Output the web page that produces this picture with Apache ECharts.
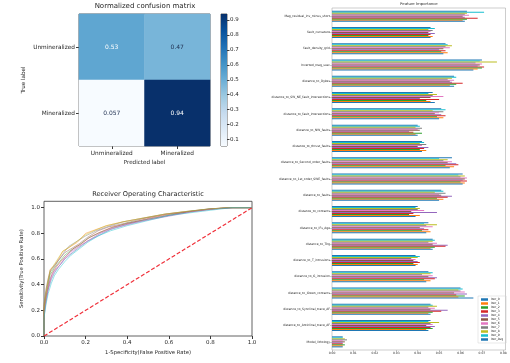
<!DOCTYPE html>
<html>
<head>
<meta charset="utf-8">
<script src="https://cdn.jsdelivr.net/npm/echarts@6/dist/echarts.min.js"></script>
<style>
  html, body { margin: 0; padding: 0; background: #fff; }
  #chart { width: 510px; height: 363px; }
</style>
</head>
<body>
<div id="chart"></div>
<script>
// confusion matrix
const cmLabels = ['Unmineralized', 'Mineralized'];
const cmValues = [
  [0, 0, 0.53], [1, 0, 0.47],
  [0, 1, 0.057], [1, 1, 0.94],
];
const cmTicks = [0.1, 0.2, 0.3, 0.4, 0.5, 0.6, 0.7, 0.8, 0.9];

// ROC curves, [fpr, tpr]
const roc0 = [[0,0],[0,0.15],[0.01,0.27],[0.02,0.36],[0.035,0.44],[0.05,0.49],[0.07,0.54],[0.1,0.6],[0.13,0.64],[0.17,0.69],[0.21,0.74],[0.26,0.78],[0.32,0.83],[0.4,0.87],[0.5,0.91],[0.6,0.94],[0.7,0.97],[0.8,0.99],[0.9,1],[1,1]];
const roc1 = [[0,0],[0,0.24],[0.01,0.36],[0.02,0.44],[0.03,0.52],[0.05,0.55],[0.07,0.6],[0.09,0.66],[0.12,0.69],[0.16,0.73],[0.2,0.8],[0.25,0.83],[0.3,0.86],[0.38,0.89],[0.48,0.92],[0.58,0.95],[0.68,0.97],[0.8,0.99],[0.88,1],[1,1]];
const roc2 = [[0,0],[0,0.2],[0.01,0.31],[0.02,0.4],[0.03,0.48],[0.05,0.53],[0.07,0.57],[0.1,0.63],[0.13,0.67],[0.17,0.71],[0.21,0.76],[0.26,0.8],[0.32,0.84],[0.4,0.88],[0.5,0.91],[0.6,0.94],[0.7,0.97],[0.8,0.99],[0.9,1],[1,1]];
const roc3 = [[0,0],[0,0.18],[0.01,0.3],[0.025,0.41],[0.04,0.49],[0.06,0.54],[0.08,0.58],[0.11,0.63],[0.14,0.68],[0.18,0.72],[0.22,0.77],[0.27,0.81],[0.33,0.85],[0.41,0.88],[0.51,0.92],[0.61,0.95],[0.71,0.97],[0.81,0.99],[0.9,1],[1,1]];
const roc4 = [[0,0],[0,0.2],[0.01,0.29],[0.02,0.38],[0.03,0.45],[0.05,0.51],[0.08,0.56],[0.1,0.61],[0.13,0.66],[0.17,0.7],[0.22,0.75],[0.27,0.8],[0.33,0.84],[0.42,0.88],[0.52,0.91],[0.62,0.94],[0.72,0.97],[0.82,0.99],[0.91,1],[1,1]];
const roc5 = [[0,0],[0,0.22],[0.01,0.34],[0.02,0.42],[0.03,0.5],[0.05,0.54],[0.07,0.59],[0.1,0.65],[0.13,0.68],[0.17,0.72],[0.21,0.77],[0.26,0.82],[0.31,0.85],[0.39,0.88],[0.49,0.92],[0.59,0.95],[0.69,0.97],[0.79,0.99],[0.89,1],[1,1]];
const roc6 = [[0,0],[0,0.16],[0.01,0.28],[0.02,0.37],[0.035,0.45],[0.05,0.5],[0.08,0.56],[0.1,0.6],[0.14,0.66],[0.18,0.71],[0.22,0.75],[0.27,0.8],[0.33,0.84],[0.41,0.87],[0.51,0.91],[0.61,0.94],[0.71,0.97],[0.81,0.99],[0.9,1],[1,1]];
const roc7 = [[0,0],[0,0.25],[0.01,0.37],[0.02,0.45],[0.03,0.51],[0.05,0.55],[0.07,0.59],[0.1,0.66],[0.12,0.7],[0.16,0.74],[0.2,0.78],[0.25,0.82],[0.3,0.85],[0.38,0.89],[0.48,0.92],[0.58,0.95],[0.68,0.97],[0.79,0.99],[0.88,1],[1,1]];
const roc8 = [[0,0],[0,0.21],[0.01,0.33],[0.02,0.43],[0.03,0.51],[0.05,0.56],[0.07,0.61],[0.09,0.66],[0.12,0.69],[0.16,0.74],[0.2,0.79],[0.24,0.82],[0.3,0.86],[0.38,0.89],[0.48,0.92],[0.58,0.95],[0.68,0.97],[0.79,0.99],[0.88,1],[1,1]];
const roc9 = [[0,0],[0,0.14],[0.01,0.25],[0.02,0.33],[0.035,0.41],[0.05,0.47],[0.07,0.52],[0.1,0.58],[0.13,0.63],[0.17,0.68],[0.21,0.73],[0.26,0.78],[0.32,0.82],[0.4,0.86],[0.5,0.9],[0.6,0.94],[0.7,0.96],[0.8,0.98],[0.9,1],[1,1]];
const diagonal = [[0, 0], [1, 1]];
const rocTicks = [0, 0.2, 0.4, 0.6, 0.8, 1.0];

// feature importance, top to bottom
const features = [
  'Mag_residual_inv_minus_short', 'fault_curvature', 'fault_density_grid', 'Inverted_mag_susc',
  'distance_to_Dykes', 'distance_to_SW_NE_fault_intersections', 'distance_to_fault_intersections',
  'distance_to_NW_faults', 'distance_to_thrust_faults', 'distance_to_Second_order_faults',
  'distance_to_1st_order_SWE_faults', 'distance_to_faults', 'distance_to_contacts',
  'distance_to_IFs_Age', 'distance_to_Tkg', 'distance_to_T_intrusions', 'distance_to_G_intrusion',
  'distance_to_Green_contacts', 'distance_to_Synclinal_trace_AF', 'distance_to_Anticlinal_trace_AF',
  'Model_lithology',
];
const iter0 = [0.062,0.046,0.052,0.066,0.057,0.048,0.050,0.040,0.042,0.055,0.061,0.050,0.039,0.044,0.047,0.039,0.044,0.066,0.046,0.045,0.005];
const iter1 = [0.061,0.047,0.054,0.068,0.055,0.046,0.052,0.039,0.044,0.057,0.062,0.052,0.041,0.046,0.046,0.040,0.046,0.059,0.045,0.044,0.005];
const iter2 = [0.063,0.045,0.051,0.070,0.058,0.044,0.049,0.042,0.041,0.053,0.060,0.049,0.036,0.042,0.048,0.038,0.043,0.062,0.047,0.047,0.006];
const iter3 = [0.068,0.046,0.053,0.071,0.061,0.050,0.053,0.038,0.043,0.059,0.063,0.054,0.038,0.045,0.053,0.041,0.048,0.058,0.051,0.046,0.005];
const iter4 = [0.062,0.048,0.050,0.068,0.056,0.041,0.051,0.036,0.045,0.058,0.061,0.056,0.049,0.043,0.054,0.040,0.049,0.063,0.054,0.048,0.005];
const iter5 = [0.061,0.045,0.052,0.069,0.055,0.046,0.048,0.041,0.040,0.054,0.062,0.051,0.037,0.041,0.047,0.038,0.045,0.057,0.046,0.044,0.006];
const iter6 = [0.064,0.046,0.055,0.070,0.057,0.052,0.050,0.040,0.042,0.056,0.063,0.050,0.043,0.047,0.049,0.039,0.047,0.062,0.048,0.047,0.005];
const iter7 = [0.062,0.047,0.053,0.067,0.054,0.047,0.052,0.042,0.044,0.052,0.060,0.053,0.040,0.044,0.045,0.037,0.042,0.060,0.045,0.046,0.007];
const iter8 = [0.063,0.045,0.056,0.077,0.056,0.049,0.047,0.039,0.041,0.054,0.062,0.048,0.041,0.049,0.047,0.040,0.046,0.059,0.049,0.050,0.006];
const iter9 = [0.071,0.048,0.054,0.069,0.058,0.045,0.053,0.041,0.043,0.050,0.059,0.052,0.039,0.043,0.048,0.041,0.047,0.061,0.047,0.045,0.005];
const iterAvg = [0.063,0.046,0.053,0.070,0.057,0.047,0.051,0.040,0.042,0.056,0.061,0.051,0.040,0.045,0.047,0.039,0.045,0.060,0.046,0.046,0.005];
const fiTicks = [0, 0.01, 0.02, 0.03, 0.04, 0.05, 0.06, 0.07, 0.08];

// matplotlib tab10 + Blues
const tab10 = ['#1f77b4', '#ff7f0e', '#2ca02c', '#d62728', '#9467bd', '#8c564b', '#e377c2', '#7f7f7f', '#bcbd22', '#17becf'];
const blues = ['#f7fbff', '#deebf7', '#c6dbef', '#9ecae1', '#6baed6', '#4292c6', '#2171b5', '#08519c', '#08306b'];
const txt = '#262626';
const font = 'DejaVu Sans';

const rocCurves = [roc0, roc1, roc2, roc3, roc4, roc5, roc6, roc7, roc8, roc9];
const iters = [
  ['Iter_0', iter0], ['Iter_1', iter1], ['Iter_2', iter2], ['Iter_3', iter3], ['Iter_4', iter4],
  ['Iter_5', iter5], ['Iter_6', iter6], ['Iter_7', iter7], ['Iter_8', iter8], ['Iter_9', iter9],
  ['Iter_Avg', iterAvg],
];

const chart = echarts.init(document.getElementById('chart'), null, { renderer: 'canvas' });

const frame = { show: true, borderColor: '#3a3a3a', borderWidth: 0.8, backgroundColor: 'transparent' };
const tickLabel = (size) => ({ color: txt, fontSize: size, fontFamily: font });

// bar series drawn avg first so Iter_0 sits at the bottom of each group
const barSeries = iters.slice().reverse().map(([name, vals]) => {
  const idx = iters.findIndex((d) => d[0] === name);
  return {
    name,
    type: 'bar',
    xAxisIndex: 3,
    yAxisIndex: 3,
    data: vals,
    barGap: '0%',
    barCategoryGap: '45%',
    itemStyle: { color: idx === 10 ? tab10[0] : tab10[idx] },
    animation: false,
  };
});

const option = {
  backgroundColor: '#fff',
  animation: false,
  textStyle: { fontFamily: font },
  title: [
    { text: 'Normalized confusion matrix', left: 145, top: 3, textAlign: 'center', padding: 0,
      textStyle: { fontSize: 7, fontWeight: 'normal', color: txt, fontFamily: font } },
    { text: 'Receiver Operating Characteristic', left: 148, top: 191, textAlign: 'center', padding: 0,
      textStyle: { fontSize: 6.6, fontWeight: 'normal', color: txt, fontFamily: font } },
    { text: 'Feature Importance', left: 419, top: 2, textAlign: 'center', padding: 0,
      textStyle: { fontSize: 3.8, fontWeight: 'normal', color: txt, fontFamily: font } },
  ],
  legend: {
    data: iters.map((d) => d[0]),
    orient: 'vertical',
    left: 478,
    top: 296,
    itemWidth: 7,
    itemHeight: 2.5,
    itemGap: 1,
    padding: [2, 3, 2, 3],
    icon: 'rect',
    borderColor: '#d0d0d0',
    borderWidth: 0.5,
    textStyle: { fontSize: 3, color: txt, fontFamily: font, padding: [0, 0, 0, -2] },
  },
  visualMap: {
    type: 'continuous',
    show: false,
    seriesIndex: 0,
    min: 0.057,
    max: 0.94,
    inRange: { color: blues },
  },
  grid: [
    { left: 79, top: 14, width: 131, height: 132, ...frame },
    { left: 221, top: 14, width: 6, height: 132, ...frame },
    { left: 44, top: 201.3, width: 208, height: 134.7, ...frame },
    { left: 332, top: 8, width: 173.5, height: 342, ...frame, borderColor: '#9a9a9a', borderWidth: 0.5 },
  ],
  xAxis: [
    {
      type: 'category', gridIndex: 0, data: cmLabels,
      axisLine: { show: false },
      axisTick: { show: true, alignWithLabel: true, length: 3, lineStyle: { color: '#3a3a3a' } },
      axisLabel: { ...tickLabel(5.8), margin: 4 },
      name: 'Predicted label', nameLocation: 'middle', nameGap: 14,
      nameTextStyle: { ...tickLabel(5.6) },
    },
    { type: 'category', gridIndex: 1, data: [''], show: false },
    {
      type: 'value', gridIndex: 2, min: 0, max: 1, interval: 0.2,
      axisLine: { show: false },
      axisTick: { show: true, length: 3, lineStyle: { color: '#3a3a3a' } },
      axisLabel: { ...tickLabel(5.5), margin: 4, formatter: (v) => v.toFixed(1) },
      splitLine: { show: false },
      name: '1-Specificity(False Positive Rate)', nameLocation: 'middle', nameGap: 14,
      nameTextStyle: { ...tickLabel(5.3) },
    },
    {
      type: 'value', gridIndex: 3, min: 0, max: 0.081,
      axisLine: { show: false },
      axisTick: { show: true, length: 2, customValues: fiTicks, lineStyle: { color: '#9a9a9a', width: 0.5 } },
      axisLabel: { ...tickLabel(3), margin: 2, customValues: fiTicks, formatter: (v) => v.toFixed(2) },
      splitLine: { show: false },
    },
  ],
  yAxis: [
    {
      type: 'category', gridIndex: 0, data: cmLabels, inverse: true,
      axisLine: { show: false },
      axisTick: { show: true, alignWithLabel: true, length: 3, lineStyle: { color: '#3a3a3a' } },
      axisLabel: { ...tickLabel(5.8), margin: 4 },
      name: 'True label', nameLocation: 'middle', nameGap: 52, nameRotate: 90,
      nameTextStyle: { ...tickLabel(5.6) },
    },
    {
      type: 'value', gridIndex: 1, position: 'right', min: 0.057, max: 0.94,
      axisLine: { show: false },
      axisTick: { show: true, length: 2.5, customValues: cmTicks, lineStyle: { color: '#3a3a3a' } },
      axisLabel: { ...tickLabel(5.5), margin: 3, customValues: cmTicks, formatter: (v) => v.toFixed(1) },
      splitLine: { show: false },
    },
    {
      type: 'value', gridIndex: 2, min: 0, max: 1.05,
      axisLine: { show: false },
      axisTick: { show: true, length: 3, customValues: rocTicks, lineStyle: { color: '#3a3a3a' } },
      axisLabel: { ...tickLabel(5.5), margin: 4, customValues: rocTicks, formatter: (v) => v.toFixed(1) },
      splitLine: { show: false },
      name: 'Sensitivity(True Positive Rate)', nameLocation: 'middle', nameGap: 20, nameRotate: 90,
      nameTextStyle: { ...tickLabel(5.3) },
    },
    {
      type: 'category', gridIndex: 3, data: features, inverse: true,
      axisLine: { show: false },
      axisTick: { show: true, alignWithLabel: true, length: 2, lineStyle: { color: '#9a9a9a', width: 0.5 } },
      axisLabel: { ...tickLabel(3), margin: 2, interval: 0 },
    },
  ],
  series: [
    {
      type: 'heatmap',
      xAxisIndex: 0,
      yAxisIndex: 0,
      data: cmValues.map(([x, y, v]) => ({
        value: [x, y, v],
        label: { color: v > 0.5 ? '#ffffff' : '#1f2f50' },
      })),
      label: { show: true, fontSize: 6, fontFamily: font, formatter: (p) => String(p.value[2]) },
    },
    {
      // colorbar
      type: 'bar',
      xAxisIndex: 1,
      yAxisIndex: 1,
      data: [0.94],
      barWidth: '100%',
      silent: true,
      itemStyle: {
        color: new echarts.graphic.LinearGradient(0, 1, 0, 0,
          blues.map((c, i) => ({ offset: i / (blues.length - 1), color: c }))),
      },
    },
    ...rocCurves.map((pts, i) => ({
      type: 'line',
      xAxisIndex: 2,
      yAxisIndex: 2,
      data: pts,
      showSymbol: false,
      silent: true,
      lineStyle: { color: tab10[i], width: 1, opacity: 0.45 },
    })),
    {
      type: 'line',
      xAxisIndex: 2,
      yAxisIndex: 2,
      data: diagonal,
      showSymbol: false,
      silent: true,
      lineStyle: { color: '#f0303a', width: 1.2, type: [4, 2] },
    },
    ...barSeries,
  ],
};

chart.setOption(option);
</script>
</body>
</html>
